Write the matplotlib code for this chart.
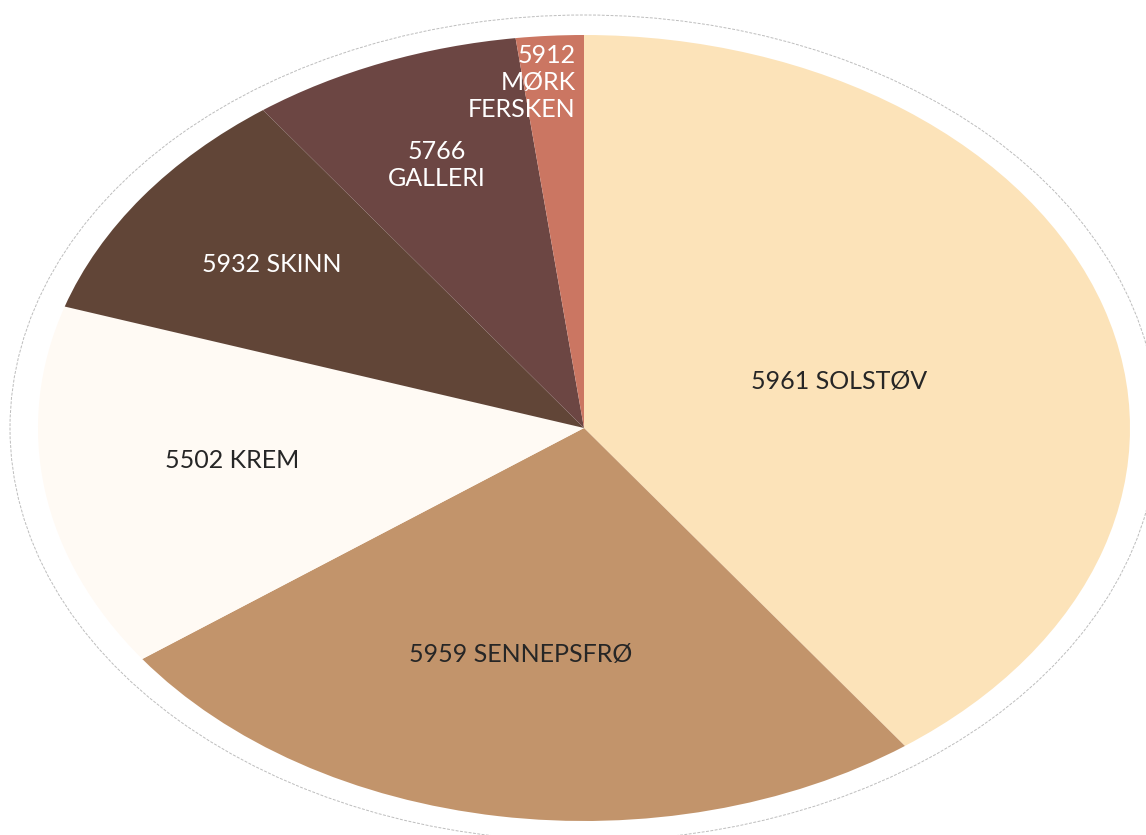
import matplotlib
matplotlib.use("Agg")
import matplotlib.pyplot as plt
from matplotlib.patches import Ellipse
import numpy as np

labels = ["5961 SOLSTØV", "5959 SENNEPSFRØ", "5502 KREM", "5932 SKINN",
          "5766\nGALLERI", "5912\nMØRK\nFERSKEN"]
values = [40, 25, 15, 10, 8, 2]
colors = ["#FCE3B9", "#C2946B", "#FFFAF4", "#614537", "#6C4643", "#CB7662"]
text_colors = ["#262626", "#262626", "#262626", "#ffffff", "#ffffff", "#ffffff"]
label_dist = [0.481, 0.589, 0.650, 0.707, 0.721, 0.880]
label_ang_off = [-3.9, -2.4, -1.8, 0.0, 0.3, -2.6]
label_ha = ["center", "center", "center", "center", "center", "right"]

plt.rcParams['font.family'] = ['Lato', 'DejaVu Sans']

W, H = 1146, 835
fig = plt.figure(figsize=(W / 100, H / 100), dpi=100)
ax = fig.add_axes([0, 0, 1, 1])
ax.set_axis_off()

cx, cy = 584, 428   # pixel centre (from top)
rx, ry = 546, 393   # pixel radii of pie

wedges, _ = ax.pie(values, colors=colors, startangle=90, counterclock=False,
                   radius=1.0, center=(0, 0),
                   wedgeprops=dict(edgecolor="none", linewidth=0))
ax.set_aspect('auto')
ax.set_xlim(-cx / rx, (W - cx) / rx)
ax.set_ylim(-(H - cy) / ry, cy / ry)

outer = Ellipse((0, 0), 2 * 574 / rx, 2 * 413 / ry, fill=False,
                edgecolor="#bdbdbd", linewidth=0.7, linestyle=(0, (3, 1.5)))
ax.add_patch(outer)

for i, w in enumerate(wedges):
    ang = np.deg2rad((w.theta1 + w.theta2) / 2 + label_ang_off[i])
    d = label_dist[i]
    x, y = d * np.cos(ang), d * np.sin(ang)
    ax.text(x, y, labels[i], ha=label_ha[i], va="center", multialignment=label_ha[i],
            color=text_colors[i], fontsize=18, fontweight="normal", linespacing=1.22)

fig.savefig("out.png", dpi=100, facecolor="white")
